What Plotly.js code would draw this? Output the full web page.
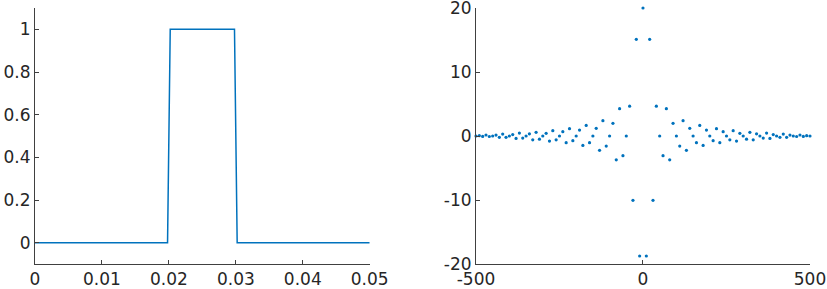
<!DOCTYPE html>
<html>
<head>
<meta charset="utf-8">
<script src="https://cdn.plot.ly/plotly-3.0.1.min.js"></script>
<style>
  html, body { margin: 0; padding: 0; background: #ffffff; }
  #chart { width: 827px; height: 289px; }
</style>
</head>
<body>
<div id="chart"></div>
<script>
// Left panel: rectangular pulse (time, amplitude)
const pulseTime = [0, 0.0198, 0.0202, 0.0298, 0.0302, 0.05];
const pulseAmp  = [0, 0, 1, 1, 0, 0];

// Right panel: spectrum samples (frequency, value)
const freq = [
  -500, -490, -480, -470, -460, -450, -440, -430, -420, -410,
  -400, -390, -380, -370, -360, -350, -340, -330, -320, -310,
  -300, -290, -280, -270, -260, -250, -240, -230, -220, -210,
  -200, -190, -180, -170, -160, -150, -140, -130, -120, -110,
  -100, -90, -80, -70, -60, -50, -40, -30, -20, -10,
  0,
  10, 20, 30, 40, 50, 60, 70, 80, 90, 100,
  110, 120, 130, 140, 150, 160, 170, 180, 190, 200,
  210, 220, 230, 240, 250, 260, 270, 280, 290, 300,
  310, 320, 330, 340, 350, 360, 370, 380, 390, 400,
  410, 420, 430, 440, 450, 460, 470, 480, 490, 500
];
const spec = [
  0, 0.05, -0.06, 0.16, -0.08, 0, 0.14, -0.2, 0.3, -0.2,
  0, 0.23, -0.38, 0.45, -0.33, 0, 0.34, -0.6, 0.57, -0.5,
  0, 0.42, -0.8, 0.83, -0.6, 0, 0.68, -1.04, 1.15, -0.73,
  0, 0.92, -1.48, 1.65, -1.04, 0, 1.2, -2.24, 2.4, -1.58,
  0, 1.98, -3.72, 4.27, -3.08, 0, 4.66, -10.05, 15.1, -18.75,
  20,
  -18.75, 15.1, -10.05, 4.66, 0, -3.08, 4.27, -3.72, 1.98, 0,
  -1.58, 2.4, -2.24, 1.2, 0, -1.04, 1.65, -1.48, 0.92, 0,
  -0.73, 1.15, -1.04, 0.68, 0, -0.6, 0.83, -0.8, 0.42, 0,
  -0.5, 0.57, -0.6, 0.34, 0, -0.33, 0.45, -0.38, 0.23, 0,
  -0.2, 0.3, -0.2, 0.14, 0, -0.08, 0.16, -0.06, 0.05, 0
];

// Tick values and labels
const leftXTicks  = [0, 0.01, 0.02, 0.03, 0.04, 0.05];
const leftXLabels = ['0', '0.01', '0.02', '0.03', '0.04', '0.05'];
const leftYTicks  = [0, 0.2, 0.4, 0.6, 0.8, 1];
const leftYLabels = ['0', '0.2', '0.4', '0.6', '0.8', '1'];
const rightXTicks  = [-500, 0, 500];
const rightXLabels = ['-500', '0', '500'];
const rightYTicks  = [-20, -10, 0, 10, 20];
const rightYLabels = ['-20', '-10', '0', '10', '20'];

const blue = '#0072BD';
const axisColor = '#404040';
const textColor = '#262626';
const tickFont = { family: 'DejaVu Sans, sans-serif', size: 17, color: textColor };

const axisBase = {
  showline: true, linecolor: axisColor, linewidth: 1,
  ticks: 'inside', ticklen: 4, tickwidth: 1, tickcolor: axisColor,
  showgrid: false, zeroline: false, tickmode: 'array',
  tickfont: tickFont, automargin: false, fixedrange: true,
  ticklabeloverflow: 'allow'
};

const traces = [
  {
    x: pulseTime, y: pulseAmp, xaxis: 'x', yaxis: 'y',
    type: 'scatter', mode: 'lines',
    line: { color: blue, width: 1.5 },
    hoverinfo: 'skip', showlegend: false
  },
  {
    x: freq, y: spec, xaxis: 'x2', yaxis: 'y2',
    type: 'scatter', mode: 'markers',
    marker: { color: blue, size: 3.2 },
    hoverinfo: 'skip', showlegend: false, cliponaxis: false
  }
];

const layout = {
  width: 827, height: 289,
  margin: { l: 35, r: 17, t: 8, b: 25, pad: 0 },
  paper_bgcolor: '#ffffff', plot_bgcolor: '#ffffff',
  showlegend: false,
  xaxis: Object.assign({}, axisBase, {
    domain: [0, 0.4319], range: [0, 0.05], anchor: 'y',
    tickvals: leftXTicks, ticktext: leftXLabels
  }),
  yaxis: Object.assign({}, axisBase, {
    domain: [0, 1], range: [-0.1, 1.1], anchor: 'x',
    tickvals: leftYTicks, ticktext: leftYLabels
  }),
  xaxis2: Object.assign({}, axisBase, {
    domain: [0.569, 1], range: [-500, 500], anchor: 'y2',
    tickvals: rightXTicks, ticktext: rightXLabels
  }),
  yaxis2: Object.assign({}, axisBase, {
    domain: [0, 1], range: [-20, 20], anchor: 'x2',
    tickvals: rightYTicks, ticktext: rightYLabels
  })
};

Plotly.newPlot('chart', traces, layout, { displayModeBar: false, staticPlot: true });
</script>
</body>
</html>
